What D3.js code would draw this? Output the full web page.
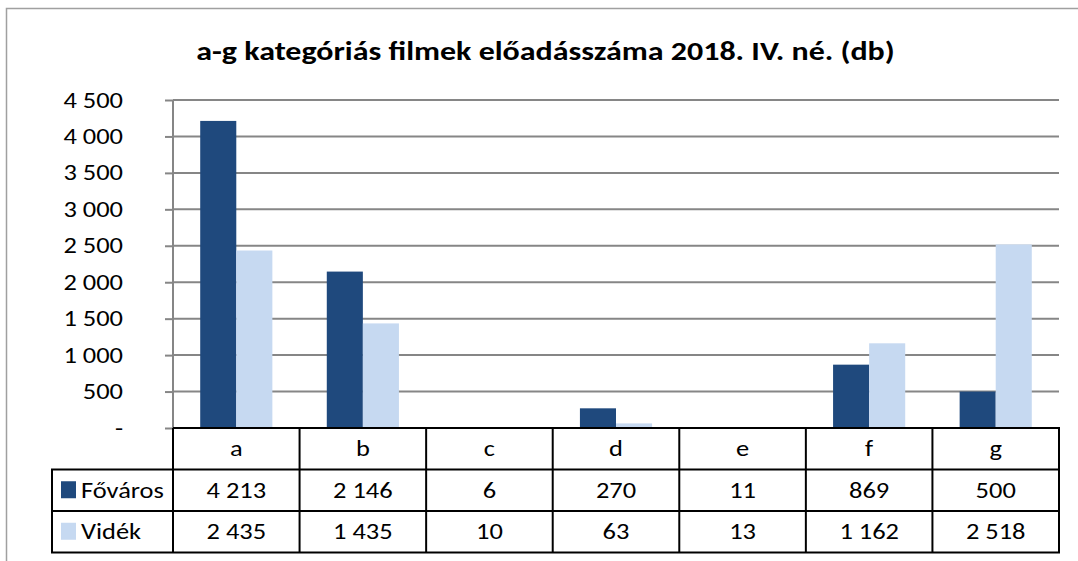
<!DOCTYPE html>
<html><head><meta charset="utf-8">
<script src="https://cdn.jsdelivr.net/npm/d3@7"></script>
<style>
html,body{margin:0;padding:0;background:#fff;}
svg{display:block;}
text{font-family:Carlito,Calibri,Lato,sans-serif;fill:#000;}
</style></head>
<body>
<svg id="c" width="1078" height="561"></svg>
<script>
const categories = ["a","b","c","d","e","f","g"];
const seriesNames = ["Főváros","Vidék"];
const fovaros = [4213,2146,6,270,11,869,500];
const videk = [2435,1435,10,63,13,1162,2518];
const yTicks = [0,500,1000,1500,2000,2500,3000,3500,4000,4500];
const yTickLabels = ["-","500","1 000","1 500","2 000","2 500","3 000","3 500","4 000","4 500"];
const tableFovaros = ["4 213","2 146","6","270","11","869","500"];
const tableVidek = ["2 435","1 435","10","63","13","1 162","2 518"];
const title = "a-g kategóriás filmek előadásszáma 2018. IV. né. (db)";

const colors = ["#1F497D","#C6D9F1"];
const SX = 1.23; // horizontal stretch of text
const FS = 21.5;
const svg = d3.select("#c");

function txt(parent, x0, y0, s, anchor, size, weight){
  const g = parent.append("g").attr("transform",`translate(${x0},${y0}) scale(${SX},1)`);
  g.append("text").attr("text-anchor",anchor||"start").attr("font-size",size||FS)
    .attr("font-weight",weight||"normal").attr("dy","0.35em").text(s);
  return g;
}

// outer frame
svg.append("path").attr("d","M6.5,561 V8.5 H1078").attr("fill","none").attr("stroke","#a0a0a0").attr("stroke-width",1.5);

const L=173, R=1059, T=100, B=428;
const x = d3.scaleBand().domain(categories).range([L,R]).paddingInner(0).paddingOuter(0);
const y = d3.scaleLinear().domain([0,4500]).range([B,T]);
const bw = x.bandwidth()*0.285;
const xs = d3.scaleBand().domain(seriesNames).range([0,2*bw]);

// title
const tg0 = svg.append("g").attr("transform",`translate(545.5,60) scale(${SX},1)`);
tg0.append("text").attr("text-anchor","middle").attr("font-size",26).attr("font-weight","bold").text(title);

// y axis
const yAxis = d3.axisLeft(y).tickValues(yTicks).tickSize(8).tickFormat("");
const gy = svg.append("g").attr("transform",`translate(${L},0)`).call(yAxis);
gy.select(".domain").attr("stroke","#868686").attr("stroke-width",2).attr("d",`M0,${T}V${B}`);
gy.selectAll(".tick line").attr("stroke","#868686").attr("stroke-width",2);
yTicks.forEach((v,i)=>{
  txt(svg, 123, y(v), yTickLabels[i], "end");
});
svg.append("g").selectAll("line").data(yTicks.filter(d=>d>0)).join("line")
  .attr("x1",L).attr("x2",R).attr("y1",d=>y(d)).attr("y2",d=>y(d))
  .attr("stroke","#868686").attr("stroke-width",2);

// bars
const data = [fovaros, videk];
data.forEach((vals,si)=>{
  svg.append("g").selectAll("rect").data(vals).join("rect")
    .attr("x",(d,i)=>x(categories[i])+x.bandwidth()/2-bw+xs(seriesNames[si]))
    .attr("width",bw)
    .attr("y",d=>y(d)).attr("height",d=>B-y(d))
    .attr("fill",colors[si]);
});

// data table
const rowH = 41.5;
const LegL = 52;
const tg = svg.append("g");
const lineAttr = s=>s.attr("stroke","#000").attr("stroke-width",2).attr("fill","none");
categories.forEach((c,i)=>{
  txt(tg, x(c)+x.bandwidth()/2, B+rowH/2, c, "middle");
});
[tableFovaros, tableVidek].forEach((row,ri)=>{
  const cy = B+rowH*(ri+1)+rowH/2;
  row.forEach((t,i)=>{
    txt(tg, x(categories[i])+x.bandwidth()/2, cy, t, "middle");
  });
  tg.append("rect").attr("x",61).attr("y",cy-9).attr("width",15).attr("height",17).attr("fill",colors[ri]);
  txt(tg, 81, cy, seriesNames[ri], "start");
});
lineAttr(tg.append("line").attr("x1",L).attr("x2",R).attr("y1",B).attr("y2",B));
for(let r=1;r<=3;r++){
  lineAttr(tg.append("line").attr("x1",LegL-1).attr("x2",R+1).attr("y1",B+rowH*r).attr("y2",B+rowH*r));
}
categories.forEach((c,i)=>{
  lineAttr(tg.append("line").attr("x1",x(c)).attr("x2",x(c)).attr("y1",B).attr("y2",B+3*rowH));
});
lineAttr(tg.append("line").attr("x1",R).attr("x2",R).attr("y1",B-1).attr("y2",B+3*rowH));
lineAttr(tg.append("line").attr("x1",LegL).attr("x2",LegL).attr("y1",B+rowH).attr("y2",B+3*rowH));
</script>
</body></html>
